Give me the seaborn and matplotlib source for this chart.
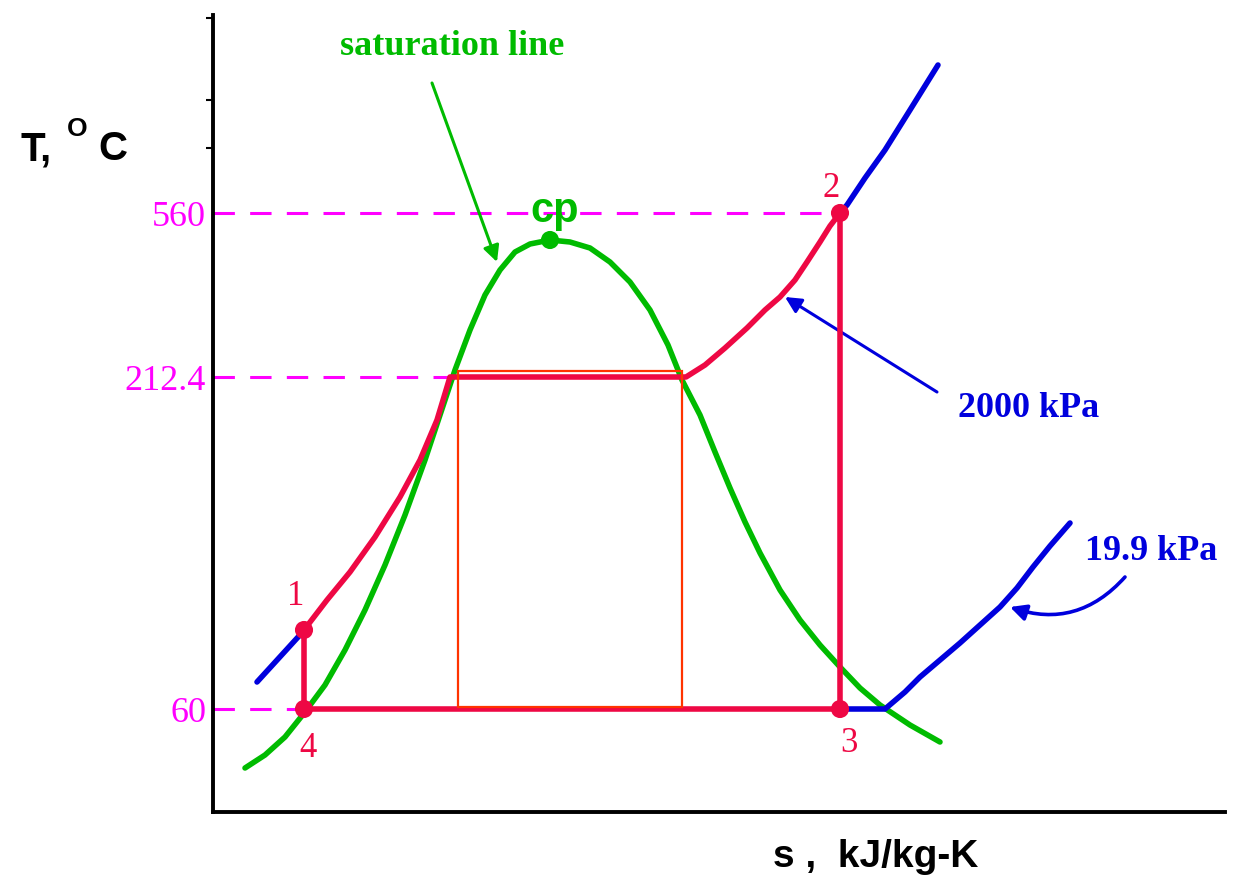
import matplotlib
matplotlib.use("Agg")
import matplotlib.pyplot as plt
import seaborn as sns
from matplotlib.patches import Rectangle

# ---- schematic T-s diagram data (entropy units, schematic temperature units) ----
dome_s = [32, 52, 72, 92, 112, 132, 152, 172, 192, 212, 227, 242, 257, 272, 287, 302, 317, 337,
          357, 377, 397, 417, 437, 455, 469, 487, 502, 517, 532, 547, 567, 587, 607, 627, 647,
          667, 697, 727]
dome_T = [44, 57, 75, 100, 127, 162, 202, 247, 297, 352, 397, 442, 482, 517, 542, 560, 568, 572,
          570, 564, 550, 530, 502, 467, 432, 397, 360, 324, 290, 259, 222, 192, 167, 145, 124,
          107, 87, 70]

# Rankine cycle 4 -> 1 -> liquid heating -> boiling -> superheat -> 2 -> 3 -> 4
cycle_s = [91, 91, 114, 137, 162, 187, 207, 224, 237, 473, 492, 512, 534, 552, 567, 582, 594,
           607, 617, 627, 627, 91]
cycle_T = [103, 182, 212, 240, 275, 315, 352, 392, 435, 435, 447, 464, 484, 502, 515, 532, 550,
           570, 586, 599, 103, 103]

state_s = [91, 627, 627, 91]
state_T = [182, 599, 103, 103]
state_labels = ["1", "2", "3", "4"]
label_pos_s = [83, 618, 636, 95]
label_pos_T = [207, 615, 60, 55]

# isobars
p2000_s = [627, 634, 652, 672, 697, 725]
p2000_T = [599, 607, 634, 662, 702, 747]
pcomp_s = [44, 86, 91]
pcomp_T = [130, 176, 182]
p199_s = [627, 672, 692, 707, 727, 747, 767, 787, 804, 820, 837, 857]
p199_T = [103, 103, 120, 135, 152, 169, 187, 205, 224, 245, 266, 289]

cp_s, cp_T = 337, 572

tick_pos = [103, 435, 599]
tick_labels = ["60", "212.4", "560"]
dash_ends = [91, 237, 620]

rect_s = (245, 469)
rect_T = (105, 441)

GREEN = "#00BB00"
RED = "#EE0844"
BLUE = "#0000DD"
MAGENTA = "#FF00FF"
RECT = "#FF3300"

sns.set_theme(style="white")
plt.rcParams["font.family"] = ["DejaVu Sans"]

fig = plt.figure(figsize=(12.42, 8.8), dpi=100)
ax = fig.add_axes([213 / 1242, 68 / 880, 1012 / 1242, 797 / 880])
ax.set_xlim(0, 1012)
ax.set_ylim(0, 797)

# magenta dashed guide lines
for yv, xe in zip(tick_pos, dash_ends):
    ax.plot([0, xe], [yv, yv], color=MAGENTA, lw=2.2, dashes=(7, 5), zorder=1)

lkw = dict(sort=False, estimator=None, lw=4.0, ax=ax, solid_joinstyle="round",
           solid_capstyle="round")
# saturation dome
sns.lineplot(x=dome_s, y=dome_T, color=GREEN, zorder=3, **lkw)
# isobar extensions
sns.lineplot(x=p2000_s, y=p2000_T, color=BLUE, zorder=3, **lkw)
sns.lineplot(x=pcomp_s, y=pcomp_T, color=BLUE, zorder=3, **lkw)
sns.lineplot(x=p199_s, y=p199_T, color=BLUE, zorder=4, **lkw)
# cycle
sns.lineplot(x=cycle_s, y=cycle_T, color=RED, zorder=4, **lkw)
sns.scatterplot(x=state_s, y=state_T, color=RED, s=170, edgecolor="none", ax=ax, zorder=5)
sns.scatterplot(x=[cp_s], y=[cp_T], color=GREEN, s=170, edgecolor="none", ax=ax, zorder=5)

ax.add_patch(Rectangle((rect_s[0], rect_T[0]), rect_s[1] - rect_s[0], rect_T[1] - rect_T[0],
                       fill=False, edgecolor=RECT, lw=1.6, zorder=6))

serif = "Liberation Serif"
for lab, xs, ys in zip(state_labels, label_pos_s, label_pos_T):
    ax.text(xs, ys, lab, color=RED, fontsize=25, family=serif, ha="center", va="baseline")

ax.text(cp_s + 5, 590, "cp", color=GREEN, fontsize=30, fontweight="bold",
        family="Liberation Sans", ha="center", va="baseline")
ax.text(239, 757, "saturation line", color=GREEN, fontsize=26, family=serif,
        fontweight="bold", ha="center", va="baseline")
ax.text(745, 395, "2000 kPa", color=BLUE, fontsize=26, family=serif,
        fontweight="bold", ha="left", va="baseline")
ax.text(872, 252, "19.9 kPa", color=BLUE, fontsize=26, family=serif,
        fontweight="bold", ha="left", va="baseline", clip_on=False)

ax.annotate("", xy=(284, 550), xytext=(219, 729),
            arrowprops=dict(arrowstyle="-|>", color=GREEN, lw=2.2, mutation_scale=24,
                            shrinkA=0, shrinkB=0))
ax.annotate("", xy=(572, 515), xytext=(724, 420),
            arrowprops=dict(arrowstyle="-|>", color=BLUE, lw=2.2, mutation_scale=24,
                            shrinkA=0, shrinkB=0))
ax.annotate("", xy=(797, 205), xytext=(912, 235),
            arrowprops=dict(arrowstyle="-|>", color=BLUE, lw=2.6, mutation_scale=24,
                            shrinkA=0, shrinkB=0, connectionstyle="arc3,rad=-0.33"))

# axes styling
for side in ["top", "right"]:
    ax.spines[side].set_visible(False)
for side in ["left", "bottom"]:
    ax.spines[side].set_color("black")
    ax.spines[side].set_linewidth(2.8)
ax.set_xticks([])
ax.set_yticks(tick_pos, labels=tick_labels)
ax.set_yticks([794, 712, 664], minor=True)
ax.tick_params(axis="y", which="major", length=0, pad=5, labelcolor=MAGENTA, labelsize=26)
ax.tick_params(axis="y", which="minor", length=5, width=1.5, color="black", direction="out", left=True)
for t in ax.get_yticklabels():
    t.set_fontfamily(serif)
ax.set_xlabel("")
ax.set_ylabel("")
ax.grid(False)

# axis labels
sans = "Liberation Sans"
ax.text(-193, 652, "T,", fontsize=29, fontweight="bold", family=sans, color="black",
        ha="left", va="baseline", clip_on=False)
ax.text(-146, 676, "O", fontsize=19, fontweight="bold", family=sans, color="black",
        ha="left", va="baseline", clip_on=False)
ax.text(-115, 652, "C", fontsize=29, fontweight="bold", family=sans, color="black",
        ha="left", va="baseline", clip_on=False)
ax.text(560, -55, "s ,  kJ/kg-K", fontsize=28, fontweight="bold", family=sans, color="black",
        ha="left", va="baseline", clip_on=False)

fig.savefig("out.png", dpi=100, facecolor="white")
